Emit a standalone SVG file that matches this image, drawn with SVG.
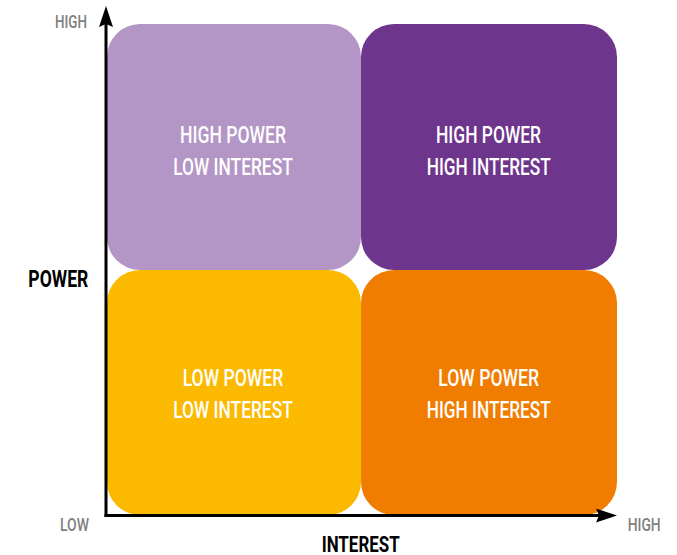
<svg xmlns="http://www.w3.org/2000/svg" width="677" height="555" viewBox="0 0 677 555">
  <style>
    .lbl { font-family: Roboto, "Liberation Sans Narrow", "Liberation Sans", sans-serif; font-weight: 500; font-size: 23px; fill: #ffffff; }
    .axl { font-family: Roboto, "Liberation Sans Narrow", "Liberation Sans", sans-serif; font-weight: 500; font-size: 19px; fill: #7f7f7f; }
    .axt { font-family: Roboto, "Liberation Sans Narrow", "Liberation Sans", sans-serif; font-weight: bold; fill: #000000; }
    .axis { stroke: #000000; stroke-width: 3; fill: none; }
  </style>
  <defs>
    <marker id="arrow" viewBox="0 0 21 14" refX="4" refY="7" markerWidth="21" markerHeight="14" markerUnits="userSpaceOnUse" orient="auto">
      <path d="M0,0 L21,7 L0,14 L3,7 Z" fill="#000000"/>
    </marker>
  </defs>
  <rect width="677" height="555" fill="#ffffff"/>

  <g id="high-power-low-interest">
    <rect x="107" y="24" width="254" height="246" rx="33" ry="33" fill="#B396C6"/>
    <text class="lbl" x="180" y="143" textLength="106" lengthAdjust="spacingAndGlyphs">HIGH POWER</text>
    <text class="lbl" x="173.3" y="175" textLength="119.4" lengthAdjust="spacingAndGlyphs">LOW INTEREST</text>
  </g>
  <g id="high-power-high-interest">
    <rect x="361" y="24" width="256" height="246" rx="33" ry="33" fill="#6E358C"/>
    <text class="lbl" x="436" y="143" textLength="105" lengthAdjust="spacingAndGlyphs">HIGH POWER</text>
    <text class="lbl" x="426.7" y="175" textLength="124" lengthAdjust="spacingAndGlyphs">HIGH INTEREST</text>
  </g>
  <g id="low-power-low-interest">
    <rect x="107" y="270" width="254" height="245" rx="33" ry="33" fill="#FBB900"/>
    <text class="lbl" x="182.7" y="386" textLength="100.6" lengthAdjust="spacingAndGlyphs">LOW POWER</text>
    <text class="lbl" x="173.3" y="418" textLength="119.4" lengthAdjust="spacingAndGlyphs">LOW INTEREST</text>
  </g>
  <g id="low-power-high-interest">
    <rect x="361" y="270" width="256" height="245" rx="33" ry="33" fill="#F07D00"/>
    <text class="lbl" x="438.3" y="386" textLength="100.7" lengthAdjust="spacingAndGlyphs">LOW POWER</text>
    <text class="lbl" x="426.7" y="418" textLength="124" lengthAdjust="spacingAndGlyphs">HIGH INTEREST</text>
  </g>

  <g id="connectors">
    <path class="axis" d="M106,517 L106,23" marker-end="url(#arrow)"/>
    <path class="axis" d="M104.5,515.5 L600,515.5" marker-end="url(#arrow)"/>
  </g>

  <g id="axis-labels">
    <text class="axl" x="55" y="28" textLength="32" lengthAdjust="spacingAndGlyphs">HIGH</text>
    <text class="axl" x="60" y="531" textLength="29" lengthAdjust="spacingAndGlyphs">LOW</text>
    <text class="axl" x="627.7" y="531" textLength="33" lengthAdjust="spacingAndGlyphs">HIGH</text>
    <text class="axt" x="28.3" y="287" font-size="23.5" textLength="60" lengthAdjust="spacingAndGlyphs">POWER</text>
    <text class="axt" x="321.7" y="551.5" font-size="21.5" textLength="78" lengthAdjust="spacingAndGlyphs">INTEREST</text>
  </g>
</svg>
